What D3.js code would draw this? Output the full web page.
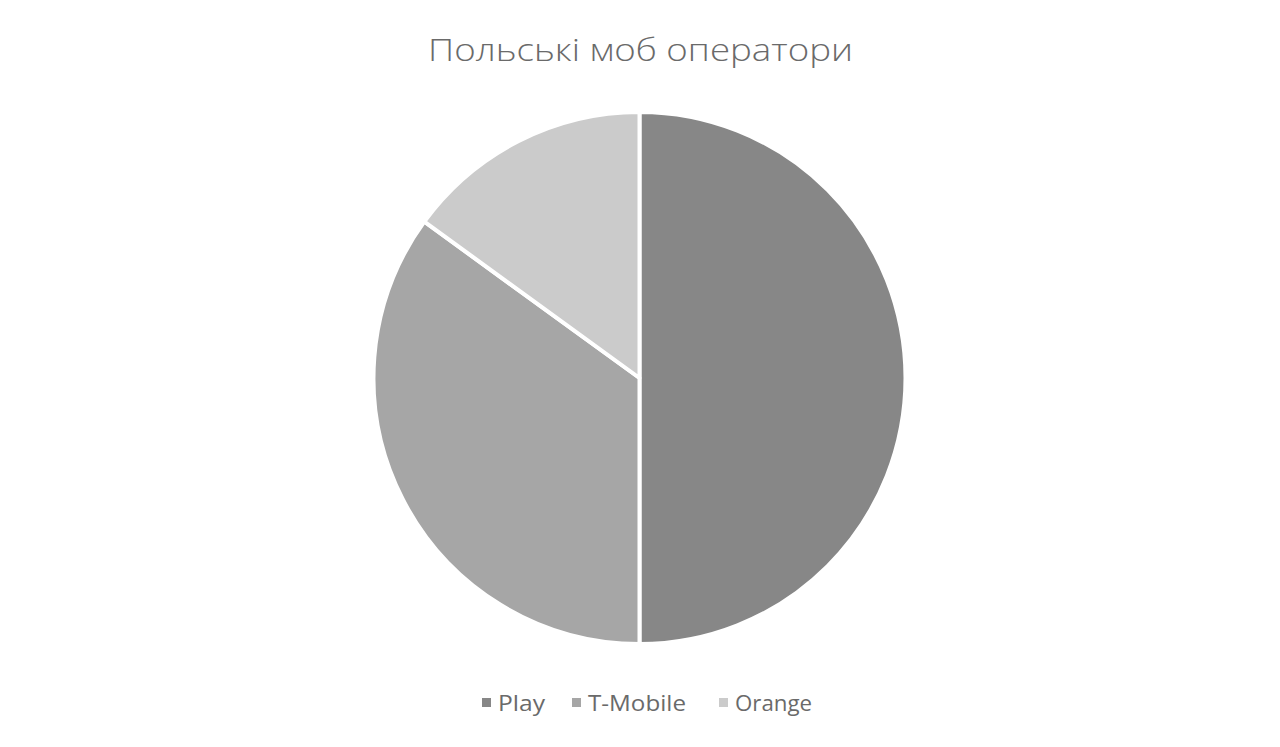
<!DOCTYPE html>
<html><head><meta charset="utf-8">
<script src="https://cdn.jsdelivr.net/npm/d3@7"></script>
<style>body{margin:0;background:#fff}</style>
</head><body>
<script>
const categories = ["Play", "T-Mobile", "Orange"];
const values = [50, 35, 15];
const colors = ["#878787", "#a6a6a6", "#cbcbcb"];
const title = "Польські моб оператори";

const W = 1280, H = 747;
const svg = d3.select("body").append("svg").attr("width", W).attr("height", H);

svg.append("text").attr("x", 428).attr("y", 61)
  .attr("font-family", "Open Sans").attr("font-weight", 300).attr("font-size", 32).attr("fill", "#6a6a6a")
  .attr("textLength", 425).attr("lengthAdjust", "spacingAndGlyphs")
  .text(title);

const cx = 639.5, cy = 378, r = 266;
const pie = d3.pie().sort(null).value(d => d)(values);
const arc = d3.arc().innerRadius(0).outerRadius(r);
const g = svg.append("g").attr("transform", `translate(${cx},${cy})`);
g.selectAll("path").data(pie).join("path")
  .attr("d", arc).attr("fill", (d, i) => colors[i])
  .attr("stroke", "#fff").attr("stroke-width", 4).attr("stroke-linejoin", "round");

const legend = svg.append("g");
const xs = [482, 572, 719];
const tl = [47, 98, 77];
categories.forEach((c, i) => {
  legend.append("rect").attr("x", xs[i]).attr("y", 698).attr("width", 9).attr("height", 9).attr("fill", colors[i]);
  legend.append("text").attr("x", xs[i] + 16).attr("y", 711)
    .attr("font-family", "Open Sans").attr("font-size", 21).attr("fill", "#6a6a6a")
    .attr("textLength", tl[i]).attr("lengthAdjust", "spacingAndGlyphs").text(c);
});
</script>
</body></html>
